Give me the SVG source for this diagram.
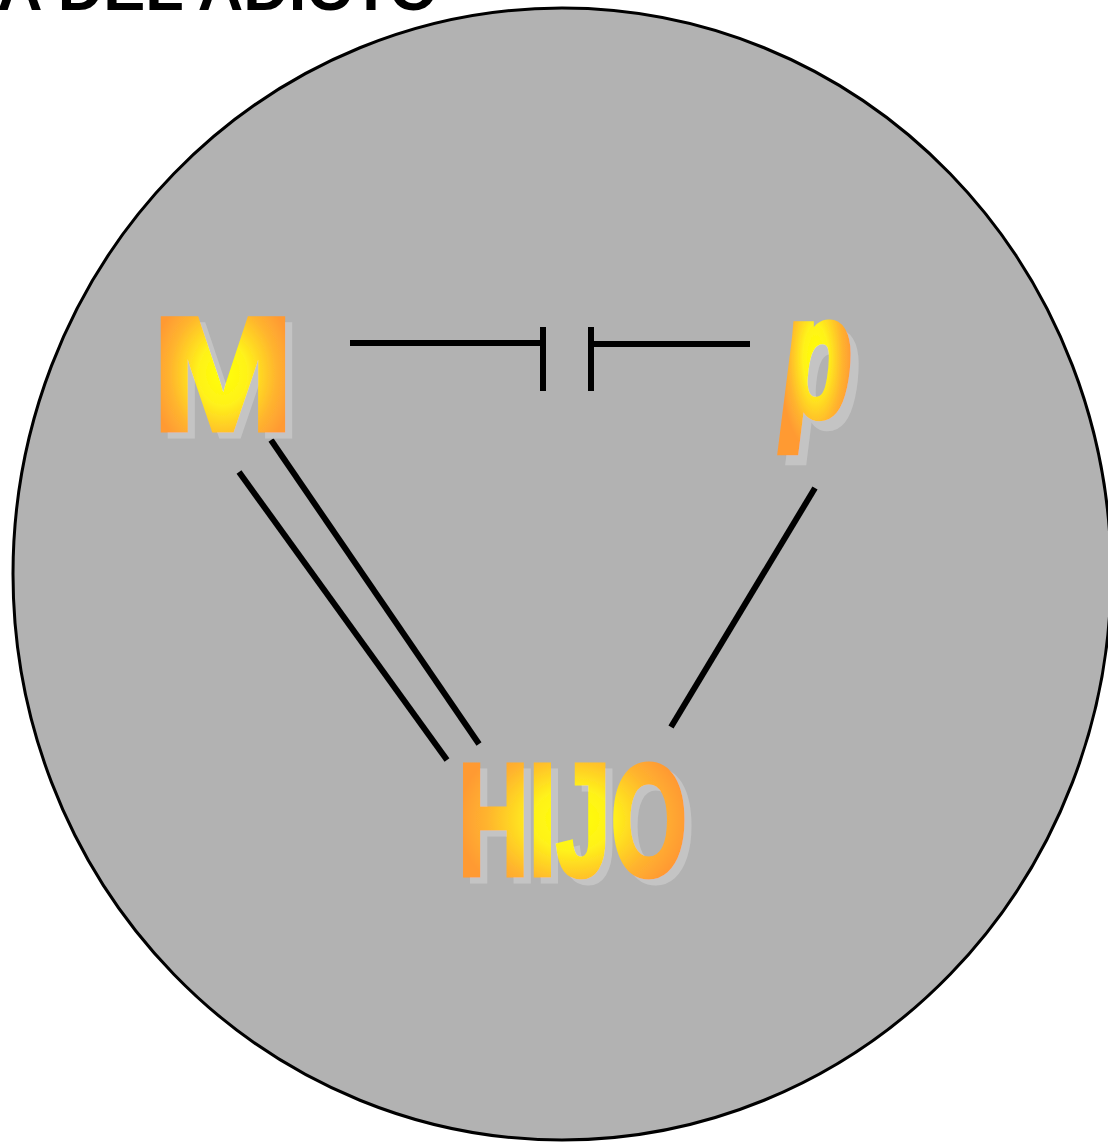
<svg xmlns="http://www.w3.org/2000/svg" width="1108" height="1148" viewBox="0 0 1108 1148">
<style>
.title{font-family:"Liberation Sans",Arial,sans-serif;font-weight:bold;font-size:63px;fill:#000}
.wa{font-family:"Liberation Sans",Arial,sans-serif;font-weight:bold;fill:url(#g);stroke:url(#g);stroke-width:5;stroke-linejoin:miter;filter:url(#shadow)}
.ln{stroke:#000;stroke-width:6;fill:none}
</style>
<defs>
<radialGradient id="g" cx="0.5" cy="0.5" r="0.5">
<stop offset="0" stop-color="#ffff00"/>
<stop offset="0.35" stop-color="#fff21a"/>
<stop offset="0.75" stop-color="#ffb42e"/>
<stop offset="1" stop-color="#ff9a33"/>
</radialGradient>
<filter id="shadow" x="-20%" y="-20%" width="140%" height="140%">
<feFlood flood-color="#c4c4c4" result="c"/>
<feComposite in="c" in2="SourceAlpha" operator="in" result="s"/>
<feOffset in="s" dx="7" dy="6" result="o"/>
<feMerge><feMergeNode in="o"/><feMergeNode in="SourceGraphic"/></feMerge>
</filter>
</defs>
<rect width="1108" height="1148" fill="#fff"/>
<text class="title" x="438" y="10" text-anchor="end">A DEL ADICTO</text>
<ellipse cx="562" cy="574" rx="549" ry="566" fill="#b2b2b2" stroke="#000" stroke-width="3"/>
<g id="connectors">
<line class="ln" x1="350" y1="343" x2="543" y2="343"/>
<line class="ln" x1="543" y1="327" x2="543" y2="391"/>
<line class="ln" x1="591" y1="327" x2="591" y2="391"/>
<line class="ln" x1="591" y1="344" x2="750" y2="344"/>
<line class="ln" x1="239" y1="472" x2="447" y2="760"/>
<line class="ln" x1="271" y1="440" x2="479" y2="744"/>
<line class="ln" x1="815" y1="488" x2="671" y2="727"/>
</g>
<g id="node-M">
<text class="wa" x="152" y="430" font-size="162" textLength="142" lengthAdjust="spacingAndGlyphs">M</text>
</g>
<g id="node-P">
<text class="wa" font-style="italic" font-size="100" transform="translate(783,416) scale(1.12,1.7)">p</text>
</g>
<g id="node-HIJO">
<text class="wa" x="458" y="875" font-size="160" textLength="229" lengthAdjust="spacingAndGlyphs">HIJO</text>
</g>
</svg>
